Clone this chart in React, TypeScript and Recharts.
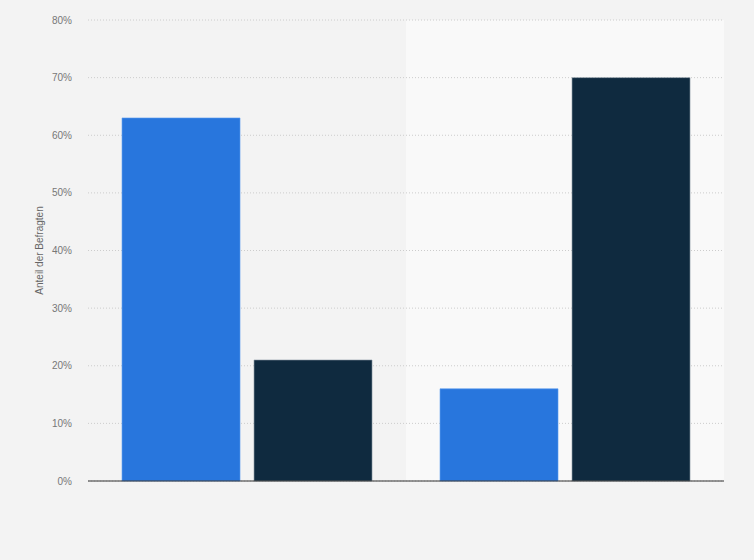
import React from "react";
import { BarChart, Bar, XAxis, YAxis, CartesianGrid } from "recharts";

const categories = ["Gruppe A", "Gruppe B"];
const seriesOne = [63, 16];
const seriesTwo = [21, 70];
const yTicks = [0, 10, 20, 30, 40, 50, 60, 70, 80];

const data = categories.map((name, i) => ({
  name,
  first: seriesOne[i],
  second: seriesTwo[i],
}));

// vertical stripe boundaries: start of each category band on the x axis
const bandStarts = ({ offset }: any) =>
  categories.map(
    (_, i) => offset.left + (i * offset.width) / categories.length
  );

export default function App() {
  return (
    <div
      style={{
        position: "absolute",
        left: 0,
        top: 0,
        width: 754,
        height: 560,
        background: "#f3f3f3",
        fontFamily: "'Liberation Sans', Arial, sans-serif",
      }}>
      <BarChart
        width={754}
        height={560}
        data={data}
        margin={{ top: 20, right: 30, bottom: 78, left: 0 }}
        barCategoryGap="10.7%"
        barGap={14}>
        <CartesianGrid
          stroke="#cccccc"
          strokeDasharray="1 2"
          vertical={() => <g />}
          verticalCoordinatesGenerator={bandStarts}
          verticalFill={["#f3f3f3", "#f9f9f9"]}
        />
        <XAxis
          dataKey="name"
          tick={false}
          tickLine={false}
          height={1}
          axisLine={{ stroke: "#333333", strokeWidth: 1.2 }}
        />
        <YAxis
          width={88}
          domain={[0, 80]}
          ticks={yTicks}
          tickFormatter={(v) => `${v}%`}
          axisLine={false}
          tickLine={false}
          tickSize={0}
          tickMargin={16}
          tick={{ fontSize: 10, fill: "#777777" }}
          label={{
            value: "Anteil der Befragten",
            angle: -90,
            position: "insideLeft",
            offset: 39,
            style: { fontSize: 10, fill: "#666666", textAnchor: "middle" },
          }}
        />
        <Bar
          dataKey="first"
          fill="#2876dd"
          stroke="#5a9cf0"
          strokeWidth={0.6}
          isAnimationActive={false}
        />
        <Bar
          dataKey="second"
          fill="#0f2a3f"
          stroke="#8a97a3"
          strokeWidth={0.6}
          isAnimationActive={false}
        />
      </BarChart>
    </div>
  );
}
